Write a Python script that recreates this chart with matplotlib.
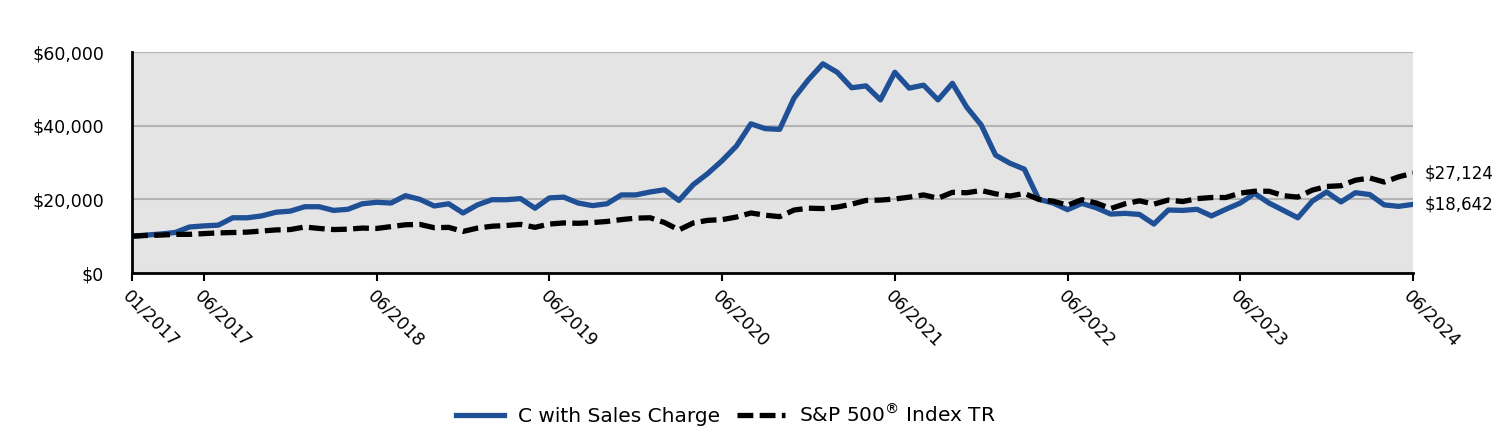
import matplotlib
matplotlib.use("Agg")
import matplotlib.pyplot as plt
import numpy as np

# monthly values, 01/2017 .. 06/2024
fund = [10000, 10300, 10600, 11000, 12500, 12800, 13000, 15000, 15000, 15500,
        16500, 16800, 18000, 18000, 17000, 17300, 18800, 19200, 19000, 21000,
        20000, 18200, 18800, 16300, 18500, 19900, 19900, 20200, 17600, 20400,
        20600, 19000, 18300, 18800, 21200, 21200, 22000, 22600, 19700, 24000,
        27000, 30500, 34500, 40500, 39200, 39000, 47500, 52500, 56800, 54500,
        50300, 50800, 47000, 54500, 50200, 51000, 47000, 51500, 45000, 40200,
        32000, 29800, 28200, 20000, 19000, 17200, 18900, 17700, 16000, 16200,
        15900, 13300, 17100, 17000, 17300, 15500, 17300, 19000, 21600, 19000,
        17000, 15000, 19500, 22000, 19300, 21800, 21300, 18500, 18100, 18642]
index = [10000, 10200, 10300, 10500, 10500, 10700, 10900, 11000, 11100, 11400,
         11700, 11800, 12500, 12100, 11800, 11900, 12200, 12100, 12600, 13100,
         13200, 12300, 12400, 11300, 12200, 12700, 12900, 13200, 12400, 13300,
         13600, 13500, 13700, 14000, 14500, 14900, 15000, 13700, 11700, 13600,
         14300, 14500, 15200, 16300, 15700, 15300, 17100, 17600, 17500, 17900,
         18700, 19700, 19800, 20100, 20600, 21200, 20300, 21900, 21800, 22400,
         21500, 20900, 21600, 20000, 19500, 18400, 19900, 19000, 17500, 18800,
         19600, 18700, 19800, 19400, 20200, 20500, 20500, 21700, 22200, 22200,
         21000, 20600, 22500, 23500, 23700, 25200, 25800, 24700, 26100, 27124]
tick_pos = [0, 5, 17, 29, 41, 53, 65, 77, 89]
tick_labels = ["01/2017", "06/2017", "06/2018", "06/2019", "06/2020",
               "06/2021", "06/2022", "06/2023", "06/2024"]
y_ticks = [0, 20000, 40000, 60000]

x = np.arange(len(fund))

fig = plt.figure(figsize=(15.12, 4.32), dpi=100)
ax = fig.add_axes([0.0873, 0.368, 0.8472, 0.5116])
ax.set_facecolor("#e4e4e4")

ax.plot(x, fund, color="#1f5096", lw=3.8, label="C with Sales Charge", zorder=3)
ax.plot(x, index, color="black", lw=3.8, dashes=(3, 1.2),
        label="S&P 500$^{®}$ Index TR", zorder=3)

ax.set_xlim(0, len(fund) - 1)
ax.set_ylim(0, 60000)
ax.set_yticks(y_ticks)
ax.set_yticklabels([f"${v:,.0f}" for v in y_ticks], fontsize=12.5)
ax.yaxis.grid(True, color="#b4b4b4", lw=1.5)
ax.set_axisbelow(True)
ax.tick_params(axis="y", length=0, pad=20)

ax.set_xticks(tick_pos)
ax.set_xticklabels(tick_labels, rotation=-45, ha="left", va="top",
                   rotation_mode="anchor", fontsize=12.5)
ax.tick_params(axis="x", length=6, width=1.5, direction="out", pad=4)

for s in ["top", "right"]:
    ax.spines[s].set_visible(False)
for s in ["left", "bottom"]:
    ax.spines[s].set_linewidth(2)

ax.text(len(fund) - 1 + 0.8, index[-1], f"${index[-1]:,}", fontsize=12,
        va="center", ha="left")
ax.text(len(fund) - 1 + 0.8, fund[-1], f"${fund[-1]:,}", fontsize=12,
        va="center", ha="left")

fig.legend(loc="center", bbox_to_anchor=(0.48, 0.04), ncol=2,
           frameon=False, fontsize=14.5, handlelength=2.4, handletextpad=0.7,
           columnspacing=0.8)

fig.savefig("out.png", dpi=100)
